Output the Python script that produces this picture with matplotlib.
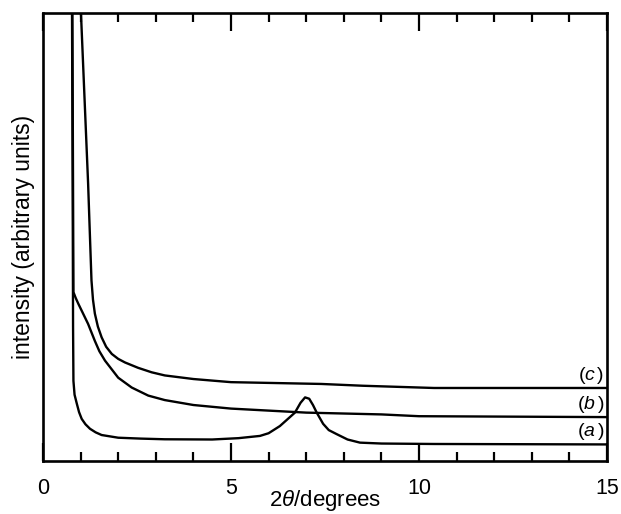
import matplotlib
matplotlib.use("Agg")
import matplotlib.pyplot as plt
from matplotlib.ticker import MultipleLocator

plt.rcParams['font.family'] = ['Liberation Sans', 'DejaVu Sans']
plt.rcParams['mathtext.fontset'] = 'custom'
plt.rcParams['mathtext.rm'] = 'Liberation Sans'
plt.rcParams['mathtext.it'] = 'Liberation Sans:italic'

# diffraction traces, 2theta (degrees) vs intensity (arbitrary)
two_theta_a = [0.77, 0.79, 0.80, 0.81, 0.84, 0.90, 0.96, 1.03, 1.13, 1.25, 1.40,
               1.56, 2.0, 2.6, 3.24, 4.5, 5.2, 5.77, 6.0, 6.3, 6.5, 6.7, 6.85,
               6.97, 7.08, 7.18, 7.28, 7.45, 7.6, 7.81, 8.1, 8.43, 9.0, 10.4, 15.0]
intensity_a = [105, 60, 30, 17.9, 14.8, 12.8, 10.9, 9.4, 8.2, 7.2, 6.4,
               5.8, 5.2, 5.0, 4.85, 4.8, 5.1, 5.6, 6.2, 7.8, 9.3, 10.8, 13.0,
               14.2, 13.9, 12.5, 10.8, 8.3, 6.9, 6.0, 4.8, 4.1, 3.9, 3.8, 3.7]

two_theta_b = [0.78, 0.80, 0.81, 0.87, 0.94, 1.05, 1.2, 1.38, 1.5, 1.65, 2.0,
               2.36, 2.8, 3.24, 4.0, 5.0, 7.0, 9.0, 10.0, 15.0]
intensity_b = [105, 60, 37.7, 36.4, 35.1, 33.2, 30.6, 26.8, 24.5, 22.4, 18.6,
               16.4, 14.6, 13.6, 12.5, 11.7, 10.8, 10.4, 10.0, 9.8]

two_theta_c = [0.99, 1.01, 1.10, 1.20, 1.29, 1.33, 1.38, 1.46, 1.56, 1.68,
               1.83, 2.0, 2.18, 2.53, 2.89, 3.24, 4.0, 5.0, 7.4, 8.5, 10.4, 15.0]
intensity_c = [105, 100, 82, 62, 40.3, 36.0, 32.9, 30.0, 27.6, 25.5,
               23.9, 22.8, 22.0, 20.8, 19.8, 19.1, 18.3, 17.6, 17.2, 16.8, 16.3, 16.3]

trace_labels = ['(a)', '(b)', '(c)']
label_levels = [3.7, 9.8, 16.3]

fig = plt.figure(figsize=(6.21, 5.14), dpi=100)
ax = fig.add_axes([0.0692, 0.1031, 0.9083, 0.8716])

for x, y in [(two_theta_a, intensity_a), (two_theta_b, intensity_b),
             (two_theta_c, intensity_c)]:
    ax.plot(x, y, color='black', lw=1.7, solid_joinstyle='round')

for lab, lev in zip(trace_labels, label_levels):
    ax.text(14.92, lev + 0.5, r'($%s\,$)' % lab[1], ha='right', va='bottom',
            fontsize=14)

ax.set_xlim(0, 15)
ax.set_ylim(0, 100)
ax.set_yticks([])
ax.xaxis.set_major_locator(MultipleLocator(5))
ax.xaxis.set_minor_locator(MultipleLocator(1))
ax.tick_params(axis='x', which='both', direction='in', top=True,
               labelsize=15.5, pad=12, width=1.6)
ax.tick_params(axis='x', which='major', length=13)
ax.tick_params(axis='x', which='minor', length=6.5)
for sp in ax.spines.values():
    sp.set_linewidth(1.9)

ax.set_xlabel(r'2$\theta$/degrees', fontsize=16)
ax.xaxis.set_label_coords(0.5, -0.061)
ax.set_ylabel('intensity (arbitrary units)', fontsize=16.5)
ax.yaxis.set_label_coords(-0.014, 0.5)

fig.savefig('out.png', dpi=100)
